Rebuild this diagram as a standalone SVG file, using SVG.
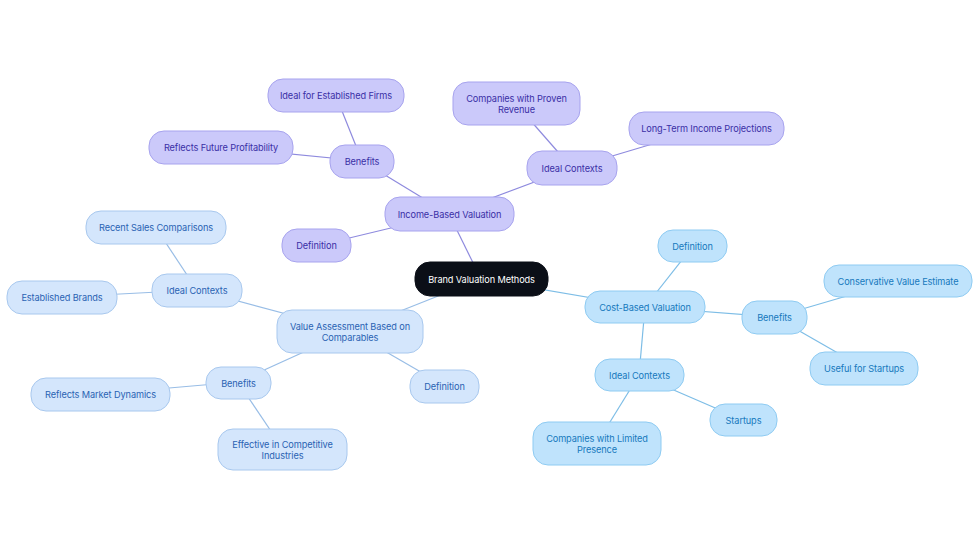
<svg xmlns="http://www.w3.org/2000/svg" width="980" height="553" viewBox="0 0 980 553">
<style>
text{font-family:Inter,"Liberation Sans",sans-serif;font-size:9.2px;letter-spacing:-0.1px;text-anchor:middle;dominant-baseline:central}
.p rect{fill:#cbc9fa;stroke:#a7a3ee;stroke-width:1}
.p text{fill:#3a2fa6}
.b rect{fill:#d4e6fc;stroke:#a8c8ee;stroke-width:1}
.b text{fill:#2a63b3}
.c rect{fill:#bfe3fc;stroke:#8ecbf2;stroke-width:1}
.c text{fill:#1679bd}
.r rect{fill:#0b0f17;stroke:#0b0f17}
.r text{fill:#ffffff}
.ep{stroke:#8e8ade;stroke-width:1.2;fill:none}
.eb{stroke:#98bde6;stroke-width:1.2;fill:none}
.ec{stroke:#7dbde6;stroke-width:1.2;fill:none}
</style>
<rect width="980" height="553" fill="#ffffff"/>
<g id="connectors">
<line class="ep" x1="481" y1="279" x2="449" y2="214"/>
<line class="ep" x1="449" y1="214" x2="316" y2="246"/>
<line class="ep" x1="449" y1="214" x2="362" y2="161"/>
<line class="ep" x1="362" y1="161" x2="221" y2="147"/>
<line class="ep" x1="362" y1="161" x2="336" y2="96"/>
<line class="ep" x1="449" y1="214" x2="572" y2="168"/>
<line class="ep" x1="572" y1="168" x2="516" y2="104"/>
<line class="ep" x1="572" y1="168" x2="706" y2="128"/>
<line class="ec" x1="481" y1="279" x2="645" y2="307"/>
<line class="ec" x1="645" y1="307" x2="693" y2="246"/>
<line class="ec" x1="645" y1="307" x2="775" y2="317"/>
<line class="ec" x1="775" y1="317" x2="898" y2="281"/>
<line class="ec" x1="775" y1="317" x2="864" y2="368"/>
<line class="ec" x1="645" y1="307" x2="639" y2="375"/>
<line class="ec" x1="639" y1="375" x2="743" y2="420"/>
<line class="ec" x1="639" y1="375" x2="597" y2="443"/>
<line class="eb" x1="481" y1="279" x2="350" y2="331"/>
<line class="eb" x1="350" y1="331" x2="445" y2="386"/>
<line class="eb" x1="350" y1="331" x2="238" y2="382"/>
<line class="eb" x1="238" y1="382" x2="100" y2="394"/>
<line class="eb" x1="238" y1="382" x2="283" y2="449"/>
<line class="eb" x1="350" y1="331" x2="197" y2="290"/>
<line class="eb" x1="197" y1="290" x2="156" y2="228"/>
<line class="eb" x1="197" y1="290" x2="62" y2="297"/>
</g>
<g id="root" class="r"><rect x="415" y="262" width="133" height="34" rx="15"/><text x="481.5" y="279">Brand Valuation Methods</text></g>

<g id="income" class="p"><rect x="385" y="197" width="129" height="34" rx="15"/><text x="449.5" y="214">Income-Based Valuation</text></g>
<g id="income-def" class="p"><rect x="282" y="229" width="69" height="33" rx="15"/><text x="316.5" y="245.5">Definition</text></g>
<g id="income-ben" class="p"><rect x="330" y="145" width="64" height="33" rx="15"/><text x="362" y="161.5">Benefits</text></g>
<g id="income-ben-1" class="p"><rect x="149" y="131" width="144" height="33" rx="15"/><text x="221" y="147.5">Reflects Future Profitability</text></g>
<g id="income-ben-2" class="p"><rect x="268" y="79" width="136" height="33" rx="15"/><text x="336" y="95.5">Ideal for Established Firms</text></g>
<g id="income-ctx" class="p"><rect x="527" y="151" width="90" height="34" rx="15"/><text x="572" y="168">Ideal Contexts</text></g>
<g id="income-ctx-1" class="p"><rect x="453" y="82" width="127" height="43" rx="15"/><text x="516.5" y="98.5">Companies with Proven</text><text x="516.5" y="109">Revenue</text></g>
<g id="income-ctx-2" class="p"><rect x="629" y="112" width="155" height="33" rx="15"/><text x="706.5" y="128.5">Long-Term Income Projections</text></g>

<g id="cost" class="c"><rect x="585" y="291" width="120" height="32" rx="15"/><text x="645" y="307">Cost-Based Valuation</text></g>
<g id="cost-def" class="c"><rect x="658" y="230" width="69" height="32" rx="15"/><text x="692.5" y="246">Definition</text></g>
<g id="cost-ben" class="c"><rect x="742" y="301" width="65" height="33" rx="15"/><text x="774.5" y="317.5">Benefits</text></g>
<g id="cost-ben-1" class="c"><rect x="824" y="265" width="148" height="32" rx="15"/><text x="898" y="281">Conservative Value Estimate</text></g>
<g id="cost-ben-2" class="c"><rect x="810" y="352" width="108" height="33" rx="15"/><text x="864" y="368.5">Useful for Startups</text></g>
<g id="cost-ctx" class="c"><rect x="595" y="359" width="89" height="32" rx="15"/><text x="639.5" y="375">Ideal Contexts</text></g>
<g id="cost-ctx-1" class="c"><rect x="710" y="404" width="67" height="32" rx="15"/><text x="743.5" y="420">Startups</text></g>
<g id="cost-ctx-2" class="c"><rect x="533" y="422" width="128" height="43" rx="15"/><text x="597" y="438.5">Companies with Limited</text><text x="597" y="449">Presence</text></g>

<g id="comp" class="b"><rect x="277" y="310" width="146" height="43" rx="15"/><text x="350" y="326.5">Value Assessment Based on</text><text x="350" y="337">Comparables</text></g>
<g id="comp-def" class="b"><rect x="410" y="370" width="69" height="33" rx="15"/><text x="444.5" y="386.5">Definition</text></g>
<g id="comp-ben" class="b"><rect x="206" y="367" width="65" height="32" rx="15"/><text x="238.5" y="383">Benefits</text></g>
<g id="comp-ben-1" class="b"><rect x="31" y="378" width="139" height="33" rx="15"/><text x="100.5" y="394.5">Reflects Market Dynamics</text></g>
<g id="comp-ben-2" class="b"><rect x="218" y="429" width="129" height="41" rx="15"/><text x="282.5" y="444.5">Effective in Competitive</text><text x="282.5" y="455">Industries</text></g>
<g id="comp-ctx" class="b"><rect x="152" y="274" width="90" height="33" rx="15"/><text x="197" y="290.5">Ideal Contexts</text></g>
<g id="comp-ctx-1" class="b"><rect x="86" y="211" width="140" height="33" rx="15"/><text x="156" y="227.5">Recent Sales Comparisons</text></g>
<g id="comp-ctx-2" class="b"><rect x="7" y="281" width="110" height="33" rx="15"/><text x="62" y="297.5">Established Brands</text></g>
</svg>
